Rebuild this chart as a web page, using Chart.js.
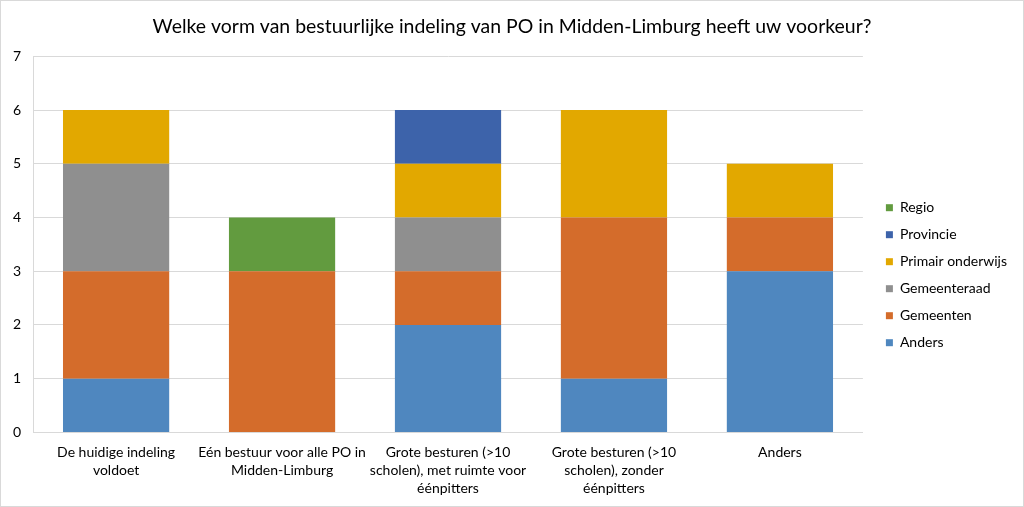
<!DOCTYPE html>
<html>
<head>
<meta charset="utf-8">
<script src="https://cdn.jsdelivr.net/npm/chart.js@4.4.0/dist/chart.umd.min.js"></script>
<style>
    body { margin: 0; background: #fff; }
    #wrap { width: 1022px; height: 505px; border: 1px solid #d9d9d9; }
</style>
</head>
<body>
<div id="wrap"><canvas id="chart" width="1022" height="505"></canvas></div>
<script>
const categories = [
    ["De huidige indeling", "voldoet"],
    ["Eén bestuur voor alle PO in", "Midden-Limburg"],
    ["Grote besturen (>10", "scholen), met ruimte voor", "éénpitters"],
    ["Grote besturen (>10", "scholen), zonder", "éénpitters"],
    "Anders"
];
const anders = [1, 0, 2, 1, 3];
const gemeenten = [2, 3, 1, 3, 1];
const gemeenteraad = [2, 0, 1, 0, 0];
const primairOnderwijs = [1, 0, 1, 2, 1];
const provincie = [0, 0, 1, 0, 0];
const regio = [0, 1, 0, 0, 0];
const yTicks = [0, 1, 2, 3, 4, 5, 6, 7];

const font = "Lato, 'Open Sans', sans-serif";

function ds(label, data, color) {
    return { label: label, data: data, backgroundColor: color, barPercentage: 0.64, categoryPercentage: 1 };
}

// nudge legend and title a bit to the right, like the original
const nudge = {
    id: "nudge",
    afterLayout(chart) {
        chart.legend.left += 10;
        chart.legend.right += 10;
        chart.titleBlock.left += 8;
        chart.titleBlock.right += 8;
    }
};

new Chart(document.getElementById("chart"), {
    type: "bar",
    data: {
        labels: categories,
        datasets: [
            ds("Anders", anders, "#4f87bf"),
            ds("Gemeenten", gemeenten, "#d46c2b"),
            ds("Gemeenteraad", gemeenteraad, "#8f8f8f"),
            ds("Primair onderwijs", primairOnderwijs, "#e2a800"),
            ds("Provincie", provincie, "#3d63aa"),
            ds("Regio", regio, "#629b3f")
        ]
    },
    plugins: [nudge],
    options: {
        responsive: false,
        animation: false,
        layout: { padding: { left: 0, right: 16, top: 0, bottom: 5 } },
        plugins: {
            title: {
                display: true,
                text: "Welke vorm van bestuurlijke indeling van PO in Midden-Limburg heeft uw voorkeur?",
                color: "#000",
                font: { family: font, size: 19.45, weight: "normal" },
                padding: { top: 14, bottom: 18 }
            },
            legend: {
                position: "right",
                reverse: true,
                title: { display: true, text: " ", font: { size: 2 }, padding: { top: 46, bottom: 0 } },
                labels: {
                    color: "#000",
                    font: { family: font, size: 14 },
                    boxWidth: 7,
                    boxHeight: 7,
                    padding: 13
                }
            },
            tooltip: { enabled: false }
        },
        scales: {
            x: {
                stacked: true,
                grid: { display: false },
                border: { color: "#d9d9d9" },
                ticks: { color: "#000", font: { family: font, size: 14, lineHeight: 1.3 }, maxRotation: 0, autoSkip: false }
            },
            y: {
                stacked: true,
                min: 0,
                max: 7,
                afterBuildTicks: axis => { axis.ticks = yTicks.map(v => ({ value: v })); },
                grid: { color: "#d9d9d9", drawTicks: false },
                border: { color: "#d9d9d9" },
                ticks: { color: "#000", font: { family: font, size: 14 }, padding: 12 }
            }
        }
    }
});
</script>
</body>
</html>
